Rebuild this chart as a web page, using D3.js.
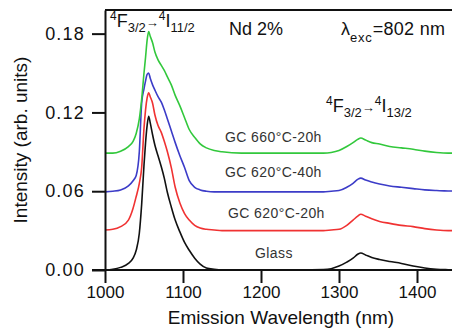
<!DOCTYPE html>
<html><head><meta charset="utf-8">
<script src="https://cdn.jsdelivr.net/npm/d3@7"></script>
<style>
html,body{margin:0;padding:0;background:#fff;}
svg{display:block;}
text{font-family:"Liberation Sans",Arial,Helvetica,sans-serif;}
</style></head>
<body>
<svg id="chart" width="452" height="329"></svg>
<script>
// ---- data ----
const wavelength = [1000,1010,1020,1030,1036,1040,1044,1047,1050,1052,1054,1056,1058,1061,1064,1068,1072,1076,1080,1085,1090,1096,1102,1108,1115,1122,1130,1140,1150,1175,1200,1250,1280,1290,1300,1310,1318,1324,1328,1334,1342,1352,1365,1380,1395,1410,1425,1440,1450];
const glass = [0.000,0.0005,0.002,0.005,0.009,0.015,0.028,0.050,0.080,0.097,0.110,0.117,0.112,0.103,0.095,0.087,0.079,0.070,0.059,0.048,0.038,0.029,0.021,0.015,0.009,0.0045,0.0015,0.0005,0.000,0.000,0.000,0.000,0.0003,0.001,0.003,0.006,0.009,0.012,0.013,0.0115,0.0095,0.008,0.0065,0.005,0.003,0.0015,0.0006,0.0002,0.000];
const gc620_20h = [0.0305,0.031,0.033,0.038,0.047,0.056,0.066,0.078,0.108,0.122,0.131,0.135,0.132,0.127,0.118,0.110,0.105,0.098,0.090,0.078,0.063,0.051,0.043,0.038,0.034,0.032,0.031,0.0305,0.030,0.030,0.030,0.030,0.030,0.0305,0.031,0.034,0.038,0.041,0.0425,0.041,0.039,0.037,0.0355,0.034,0.033,0.0315,0.0305,0.030,0.030];
const gc620_40h = [0.0595,0.060,0.061,0.064,0.068,0.072,0.090,0.127,0.138,0.144,0.149,0.150,0.146,0.141,0.137,0.132,0.128,0.122,0.115,0.106,0.097,0.087,0.078,0.068,0.063,0.061,0.060,0.0595,0.0595,0.0595,0.0595,0.0595,0.0595,0.060,0.0605,0.063,0.066,0.069,0.070,0.0685,0.067,0.0655,0.064,0.063,0.062,0.061,0.0605,0.0602,0.060];
const gc660_20h = [0.089,0.089,0.0905,0.094,0.098,0.104,0.115,0.130,0.150,0.162,0.175,0.1815,0.178,0.173,0.166,0.160,0.156,0.152,0.147,0.141,0.133,0.125,0.116,0.107,0.101,0.096,0.093,0.091,0.090,0.089,0.089,0.089,0.089,0.0895,0.091,0.094,0.097,0.0995,0.1005,0.099,0.097,0.096,0.094,0.093,0.092,0.0905,0.0895,0.089,0.089];
const seriesNames = ["Glass","GC 620°C-20h","GC 620°C-40h","GC 660°C-20h"];
const seriesColors = ["#111111","#f03232","#3c3cc8","#32c83c"];
const xTicks = [1000,1100,1200,1300,1400];
const yTicks = [0.00,0.06,0.12,0.18];

const seriesValues = [glass, gc620_20h, gc620_40h, gc660_20h];

// ---- layout ----
const svg = d3.select("#chart");
const x = d3.scaleLinear().domain([1000,1450]).range([105,456]);
const y = d3.scaleLinear().domain([0,0.198]).range([270,10]);

// data lines
const line = d3.line().x(d=>x(d[0])).y(d=>y(d[1])).curve(d3.curveMonotoneX);
seriesValues.forEach((vals,i)=>{
  svg.append("path")
    .datum(wavelength.map((w,j)=>[w,vals[j]]))
    .attr("d",line)
    .attr("fill","none")
    .attr("stroke",seriesColors[i])
    .attr("stroke-width",1.6)
    .attr("stroke-linejoin","round");
});

// top frame line
svg.append("line").attr("x1",x(1000)).attr("x2",460).attr("y1",y(0.198)).attr("y2",y(0.198))
  .attr("stroke","#111").attr("stroke-width",2);

// axes
const xAxis = svg.append("g").attr("transform",`translate(0,${y(0)})`)
  .call(d3.axisBottom(x).tickValues(xTicks).tickFormat(d3.format("d")).tickSize(13).tickSizeOuter(0).tickPadding(3));
const yAxis = svg.append("g").attr("transform",`translate(${x(1000)},0)`)
  .call(d3.axisLeft(y).tickValues(yTicks).tickFormat(d3.format(".2f")).tickSize(13).tickSizeOuter(0).tickPadding(7));
[xAxis,yAxis].forEach(g=>{
  g.select(".domain").attr("stroke","#111").attr("stroke-width",2);
  g.selectAll(".tick line").attr("stroke","#111").attr("stroke-width",2);
  g.selectAll(".tick text").attr("fill","#111").style("font-family","'Liberation Sans',Arial,sans-serif");
});
xAxis.selectAll(".tick text").attr("font-size",17);
yAxis.selectAll(".tick text").attr("font-size",18).style("letter-spacing","1.2px");
xAxis.select(".domain").attr("d",`M${x(1000)-13},0H460`);

// axis titles
svg.append("text").attr("x",281).attr("y",324).attr("text-anchor","middle")
  .attr("font-size",19).attr("fill","#111").text("Emission Wavelength (nm)");
svg.append("text").attr("transform","translate(27,140) rotate(-90)").attr("text-anchor","middle")
  .attr("font-size",19).attr("fill","#111").text("Intensity (arb. units)");

// series labels
const labelPos = [[255,258],[228,218],[225,177],[225,142]];
seriesNames.forEach((n,i)=>{
  svg.append("text").attr("x",labelPos[i][0]).attr("y",labelPos[i][1])
    .attr("font-size",14).attr("fill","#333").style("letter-spacing","0.4px").text(n);
});

// transition annotations
function transition(x0,yb,lower){
  const t = svg.append("text").attr("x",x0).attr("y",yb).attr("fill","#111").attr("font-size",18);
  t.append("tspan").attr("font-size",12).attr("dy",-7).text("4");
  t.append("tspan").attr("dy",7).text("F");
  t.append("tspan").attr("font-size",13).attr("dy",5).text("3/2");
  t.append("tspan").attr("font-size",13).attr("dy",-5).text("→");
  t.append("tspan").attr("font-size",12).attr("dy",-7).text("4");
  t.append("tspan").attr("dy",7).text("I");
  t.append("tspan").attr("font-size",13).attr("dy",5).text(lower);
}
transition(110,27,"11/2");
transition(326,112,"13/2");

svg.append("text").attr("x",229).attr("y",35).attr("font-size",18).attr("fill","#111").text("Nd 2%");
const lam = svg.append("text").attr("x",341).attr("y",35).attr("font-size",18).attr("fill","#111");
lam.append("tspan").text("λ");
lam.append("tspan").attr("font-size",13).attr("dy",7).style("letter-spacing","0.8px").text("exc");
lam.append("tspan").attr("dy",-7).style("letter-spacing","0.3px").text("=802 nm");
</script>
</body></html>
